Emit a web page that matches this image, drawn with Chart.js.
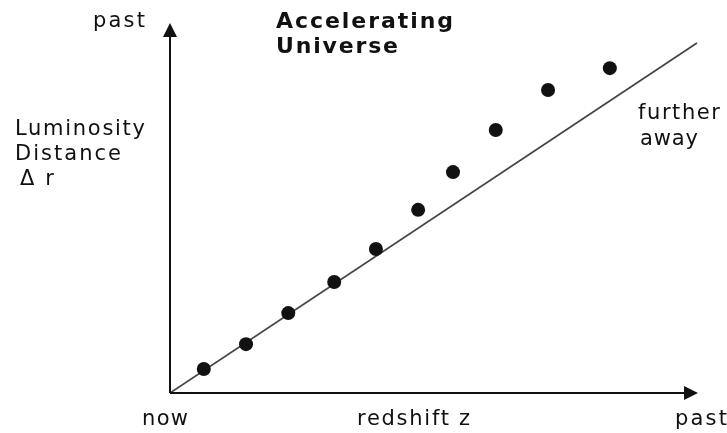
<!DOCTYPE html>
<html>
<head>
<meta charset="utf-8">
<script src="https://cdn.jsdelivr.net/npm/chart.js@4/dist/chart.umd.min.js"></script>
<style>
  html, body { margin: 0; padding: 0; background: #fff; }
  #c { display: block; }
</style>
</head>
<body>
<canvas id="c" width="727" height="433"></canvas>
<script>
const redshift = [0.64, 1.44, 2.24, 3.11, 3.90, 4.70, 5.36, 6.17, 7.16, 8.33]
const distance = [0.65, 1.32, 2.16, 3.00, 3.89, 4.95, 5.97, 7.11, 8.19, 8.78]

// reference straight line (constant expansion)
const lineZ = [0, 9.98]
const lineR = [0, 9.46]

const ink = "#111"

// text labels: [text, x, baseline, target width, bold]
const notes = [
    ["past", 93, 27, 52, false],
    ["Accelerating", 276, 28, 177, true],
    ["Universe", 276, 53, 122, true],
    ["Luminosity", 15, 135, 130, false],
    ["Distance", 15, 160, 106, false],
    ["\u0394 r", 20, 185, 34, false],
    ["further", 638, 119, 82, false],
    ["away", 640, 145, 58, false],
    ["now", 142, 425, 46, false],
    ["redshift z", 357, 425, 113, false],
    ["past", 675, 425, 52, false]
]

function drawNote(ctx, text, x, y, w, bold){
    ctx.font = (bold ? "bold 22px" : "21px") + " 'DejaVu Sans'"
    ctx.letterSpacing = "0px"
    const m = ctx.measureText(text).width
    const n = text.length - 1
    const sp = n > 0 ? (w - m) / n : 0
    ctx.letterSpacing = sp.toFixed(2) + "px"
    ctx.fillText(text, x, y)
}

const decor = {
    id: "decor",
    beforeDraw(chart){
        const ctx = chart.ctx
        ctx.save()
        ctx.fillStyle = "#fff"
        ctx.fillRect(0, 0, chart.width, chart.height)
        ctx.restore()
    },
    afterDraw(chart){
        const ctx = chart.ctx
        const a = chart.chartArea
        ctx.save()

        // axes
        ctx.strokeStyle = ink
        ctx.lineWidth = 2
        ctx.beginPath()
        ctx.moveTo(a.left, a.bottom)
        ctx.lineTo(a.left, a.top + 8)
        ctx.moveTo(a.left, a.bottom)
        ctx.lineTo(a.right - 8, a.bottom)
        ctx.stroke()

        // arrow heads
        ctx.fillStyle = ink
        ctx.beginPath()
        ctx.moveTo(a.left, a.top)
        ctx.lineTo(a.left - 7, a.top + 14)
        ctx.lineTo(a.left + 7, a.top + 14)
        ctx.closePath()
        ctx.fill()
        ctx.beginPath()
        ctx.moveTo(a.right, a.bottom)
        ctx.lineTo(a.right - 14, a.bottom - 7)
        ctx.lineTo(a.right - 14, a.bottom + 7)
        ctx.closePath()
        ctx.fill()

        // labels
        ctx.textBaseline = "alphabetic"
        ctx.textAlign = "left"
        notes.forEach(t => drawNote(ctx, t[0], t[1], t[2], t[3], t[4]))
        ctx.restore()
    }
}

new Chart(document.getElementById("c"), {
    type: "scatter",
    data: {
        datasets: [{
            label: "supernovae",
            data: redshift.map((z, i) => ({ x: z, y: distance[i] })),
            pointRadius: 7,
            pointBackgroundColor: ink,
            pointBorderWidth: 0,
            showLine: false
        }, {
            label: "linear",
            data: lineZ.map((z, i) => ({ x: z, y: lineR[i] })),
            showLine: true,
            borderColor: "#444",
            borderWidth: 1.7,
            pointRadius: 0
        }]
    },
    options: {
        responsive: false,
        animation: false,
        devicePixelRatio: 1,
        layout: { padding: { left: 170, right: 29, top: 23, bottom: 40 } },
        plugins: {
            legend: { display: false },
            tooltip: { enabled: false }
        },
        scales: {
            x: {
                min: 0, max: 10,
                ticks: { display: false },
                grid: { display: false, drawTicks: false },
                border: { display: false }
            },
            y: {
                min: 0, max: 10,
                ticks: { display: false },
                grid: { display: false, drawTicks: false },
                border: { display: false }
            }
        }
    },
    plugins: [decor]
})
</script>
</body>
</html>
